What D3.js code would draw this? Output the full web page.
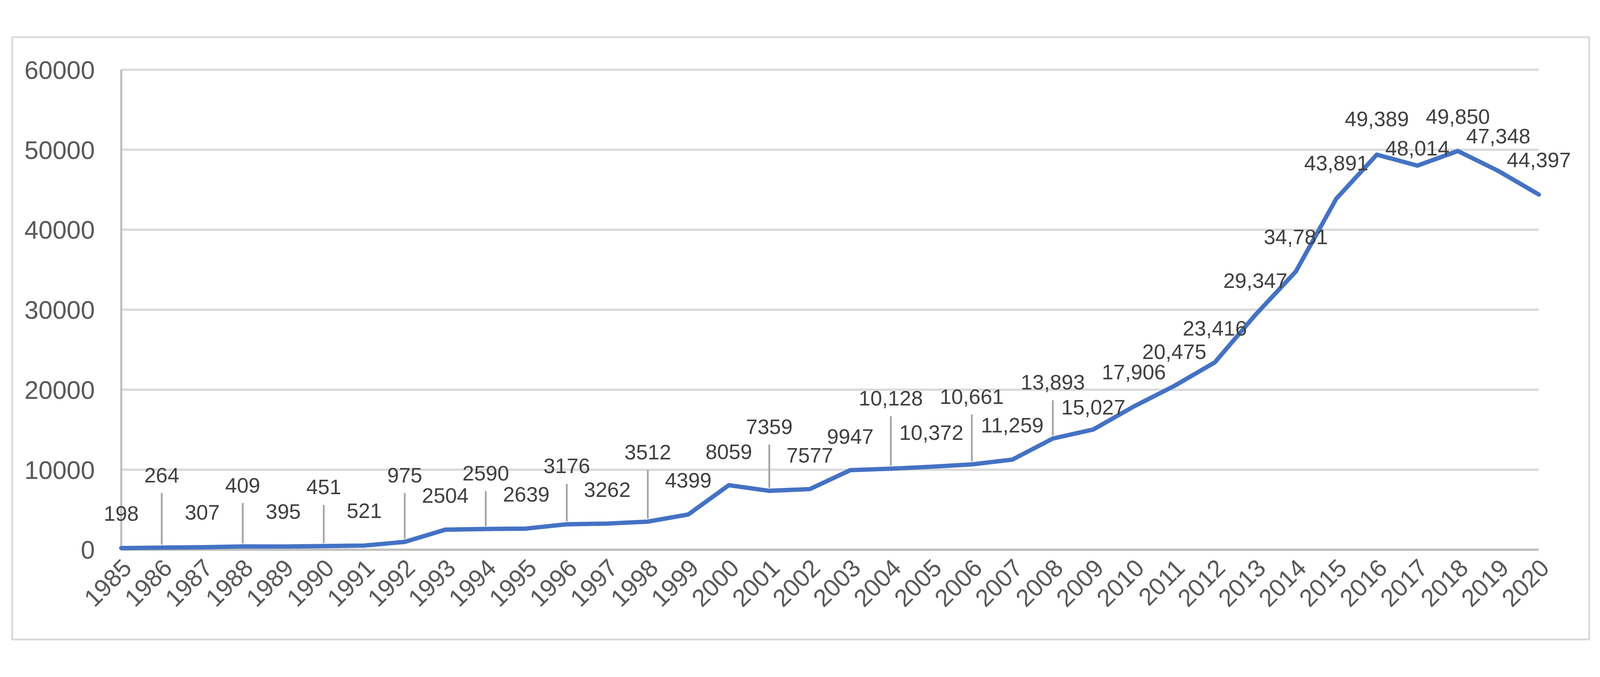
<!DOCTYPE html>
<html><head><meta charset="utf-8">
<script src="https://cdn.jsdelivr.net/npm/d3@7"></script>
<style>html,body{margin:0;padding:0;background:#fff;overflow:hidden}svg{display:block}</style>
</head><body>
<svg id="c" viewBox="0 0 4421 1733" preserveAspectRatio="xMidYMid meet" style="width:100vw;height:100vh"></svg>
<script>
const years = [1985,1986,1987,1988,1989,1990,1991,1992,1993,1994,1995,1996,1997,1998,1999,2000,2001,2002,2003,2004,2005,2006,2007,2008,2009,2010,2011,2012,2013,2014,2015,2016,2017,2018,2019,2020];
const values = [198,264,307,409,395,451,521,975,2504,2590,2639,3176,3262,3512,4399,8059,7359,7577,9947,10128,10372,10661,11259,13893,15027,17906,20475,23416,29347,34781,43891,49389,48014,49850,47348,44397];
const labelTexts = ["198","264","307","409","395","451","521","975","2504","2590","2639","3176","3262","3512","4399","8059","7359","7577","9947","10,128","10,372","10,661","11,259","13,893","15,027","17,906","20,475","23,416","29,347","34,781","43,891","49,389","48,014","49,850","47,348","44,397"];
const yTicks = [0,10000,20000,30000,40000,50000,60000];
// label placement (layout): vertical offset of label centre from point, px; leader flag
const labelDy = [-97,-201,-97,-170,-97,-164,-97,-185,-95,-155,-95,-162,-95,-193,-95,-93,-178,-94,-94,-195,-95,-188,-96,-156,-62,-96,-95,-95,-96,-96,-99,-99,-49,-96,-97,-97];
const leader = [0,1,0,1,0,1,0,1,0,1,0,1,0,1,0,0,1,0,0,1,0,1,0,1,0,0,0,0,0,0,0,0,0,0,0,0];

const svg = d3.select("#c");
svg.append("rect").attr("x",34).attr("y",34).attr("width",4357).attr("height",1664)
  .attr("fill","#fff").attr("stroke","#d9d9d9").attr("stroke-width",5);

const x = d3.scalePoint().domain(years).range([335,4252]);
const y = d3.scaleLinear().domain([0,60000]).range([1450,124]);

svg.append("g").selectAll("line").data(yTicks.filter(d=>d>0)).join("line")
  .attr("x1",335).attr("x2",4252).attr("y1",d=>y(d)).attr("y2",d=>y(d))
  .attr("stroke","#d9d9d9").attr("stroke-width",6);
svg.append("line").attr("x1",335).attr("x2",4252).attr("y1",y(0)).attr("y2",y(0)).attr("stroke","#bfbfbf").attr("stroke-width",6);
svg.append("line").attr("x1",335).attr("x2",335).attr("y1",y(0)).attr("y2",y(60000)).attr("stroke","#bfbfbf").attr("stroke-width",6);

const font = "'Liberation Sans', Arial, sans-serif";
svg.append("g").selectAll("text").data(yTicks).join("text")
  .attr("x",262).attr("y",d=>y(d)).attr("dy","0.36em").attr("text-anchor","end")
  .attr("font-family",font).attr("font-size",70).attr("fill","#595959").text(d=>d);
svg.append("g").selectAll("text").data(years).join("text")
  .attr("transform",d=>`translate(${x(d)+16},${1488}) rotate(-45)`)
  .attr("text-anchor","end").attr("dy","0.35em")
  .attr("font-family",font).attr("font-size",68).attr("fill","#595959").text(d=>d);

const pts = years.map((yr,i)=>({yr,v:values[i],i}));
svg.append("path").datum(pts)
  .attr("d",d3.line().x(d=>x(d.yr)).y(d=>y(d.v)))
  .attr("fill","none").attr("stroke","#4472C4").attr("stroke-width",12)
  .attr("stroke-linejoin","round").attr("stroke-linecap","round");

svg.append("g").selectAll("line").data(pts.filter(d=>leader[d.i])).join("line")
  .attr("x1",d=>x(d.yr)).attr("x2",d=>x(d.yr))
  .attr("y1",d=>y(d.v)+labelDy[d.i]+50).attr("y2",d=>y(d.v)-8)
  .attr("stroke","#a6a6a6").attr("stroke-width",5);

svg.append("g").selectAll("text").data(pts).join("text")
  .attr("x",d=>x(d.yr)).attr("y",d=>y(d.v)+labelDy[d.i]).attr("dy","0.36em")
  .attr("text-anchor","middle").attr("font-family",font).attr("font-size",58)
  .attr("fill","#404040").text(d=>labelTexts[d.i]);
</script>
</body></html>
